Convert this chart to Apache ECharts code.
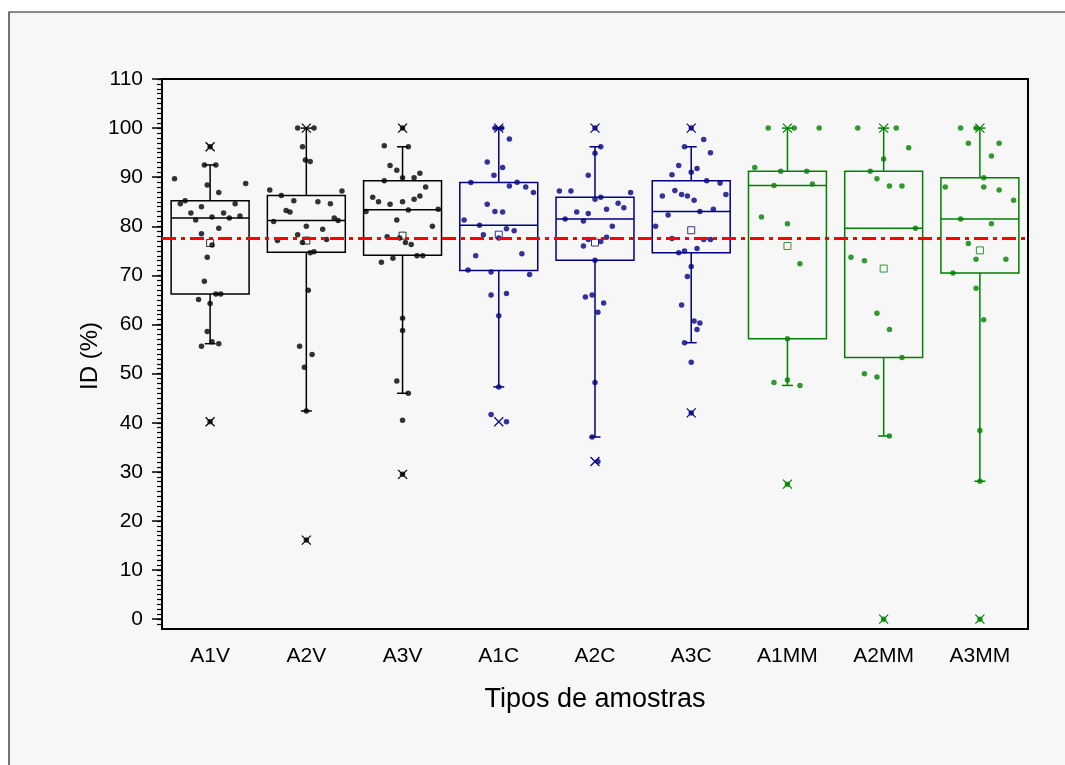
<!DOCTYPE html>
<html>
<head>
<meta charset="utf-8">
<script src="https://cdn.jsdelivr.net/npm/echarts@6/dist/echarts.min.js"></script>
<style>
  html, body { margin: 0; padding: 0; background: #ffffff; }
  #chart { width: 1065px; height: 765px; }
</style>
</head>
<body>
<div id="chart"></div>
<script>
// Sample types on the horizontal axis
const categories = ['A1V', 'A2V', 'A3V', 'A1C', 'A2C', 'A3C', 'A1MM', 'A2MM', 'A3MM'];

// Box statistics per sample type (ID, %)
const q1 = [66.2, 74.7, 74.1, 71.0, 73.1, 74.6, 57.1, 53.3, 70.5];
const median = [81.7, 81.2, 83.4, 80.2, 81.5, 83.0, 88.3, 79.6, 81.5];
const q3 = [85.2, 86.3, 89.3, 88.9, 85.9, 89.3, 91.2, 91.2, 89.9];
const whiskerLow = [56.1, 42.4, 46.0, 47.3, 37.1, 56.3, 47.6, 37.3, 28.1];
const whiskerHigh = [92.5, 100, 96.2, 100, 96.2, 96.2, 100, 100, 100];
const minValue = [40.2, 16.1, 29.5, 40.2, 32.1, 42.0, 27.5, 0, 0];
const maxValue = [96.2, 100, 100, 100, 100, 100, 100, 100, 100];
const meanValue = [76.6, 77.1, 78.1, 78.3, 76.7, 79.2, 76.0, 71.4, 75.1];

// Reference level
const referenceLevel = 77.5;

// Individual measurements per sample type
const valuesA1V = [92.5, 92.5, 89.7, 88.7, 88.4, 86.9, 84.6, 85.2, 84.6, 84.0, 82.7, 82.7, 81.3, 81.9, 81.7, 82.1, 79.6, 78.5, 76.2, 73.7, 68.8, 66.2, 66.2, 65.1, 64.3, 58.6, 56.5, 55.6, 56.1, 96.2, 40.2];
const valuesA2V = [100, 100, 96.2, 93.5, 93.2, 87.4, 87.2, 86.3, 85.2, 85.0, 84.6, 83.2, 82.9, 81.7, 81.2, 81.0, 80.0, 79.4, 78.3, 77.1, 77.3, 76.7, 74.6, 74.8, 67.0, 55.6, 53.9, 51.3, 42.4, 16.1];
const valuesA3V = [96.4, 96.2, 92.4, 91.4, 90.8, 89.9, 89.9, 89.3, 88.0, 85.9, 86.2, 85.5, 85.0, 84.5, 85.0, 83.0, 83.5, 83.3, 81.3, 80.0, 77.9, 77.6, 76.7, 76.3, 72.7, 73.5, 74.0, 74.0, 61.3, 58.8, 48.5, 46.0, 40.5, 29.5, 100];
const valuesA1C = [100, 100, 97.8, 93.1, 92.0, 90.4, 88.9, 89.0, 88.2, 88.0, 86.9, 84.5, 83.0, 82.9, 81.3, 80.2, 79.5, 79.1, 78.3, 77.6, 74.0, 74.4, 71.1, 70.7, 70.2, 66.0, 66.3, 61.8, 47.3, 41.7, 40.2];
const valuesA2C = [96.2, 94.9, 90.4, 87.2, 87.2, 86.9, 85.5, 85.9, 84.7, 83.8, 83.5, 82.9, 82.6, 81.5, 81.1, 80.0, 77.3, 77.8, 76.9, 76.0, 73.1, 65.6, 66.0, 64.4, 62.5, 48.2, 37.1, 32.1, 100];
const valuesA3C = [97.7, 96.2, 95.0, 92.4, 91.8, 90.5, 91.0, 89.3, 88.8, 87.3, 86.5, 86.2, 86.5, 86.2, 85.3, 83.5, 83.0, 82.3, 80.0, 77.5, 77.3, 77.3, 75.5, 74.6, 75.0, 71.8, 69.8, 64.0, 60.7, 60.3, 59.0, 56.3, 52.3, 42.0, 100];
const valuesA1MM = [100, 100, 100, 92.0, 91.2, 91.2, 88.3, 88.6, 81.9, 80.5, 72.4, 57.1, 48.2, 48.7, 47.6, 27.5];
const valuesA2MM = [100, 100, 96.0, 93.7, 91.2, 89.7, 88.2, 88.2, 79.6, 73.7, 73.0, 62.3, 59.0, 53.3, 50.0, 49.3, 37.3, 0];
const valuesA3MM = [100, 100, 96.9, 96.9, 94.3, 89.9, 88.0, 88.0, 87.4, 85.3, 81.5, 80.5, 76.5, 73.3, 73.3, 70.5, 67.4, 61.0, 38.4, 28.1, 0];

// Horizontal spread of the strip points, in category-band units
const jitterA1V = [-0.06, 0.06, -0.37, 0.37, -0.03, 0.09, -0.31, -0.26, 0.26, -0.09, -0.20, 0.14, -0.15, 0.02, 0.20, 0.31, 0.09, -0.09, 0.02, -0.03, -0.06, 0.06, 0.11, -0.12, 0, -0.03, 0.02, -0.09, 0.09, 0, 0];
const jitterA2V = [-0.09, 0.08, -0.04, -0.01, 0.04, -0.38, 0.37, -0.26, -0.13, 0.12, 0.25, -0.21, -0.17, 0.29, 0.33, -0.34, 0, 0.17, -0.09, -0.30, 0.21, -0.04, 0.04, 0.08, 0.02, -0.07, 0.06, -0.02, 0, 0];
const jitterA3V = [-0.19, 0.06, -0.13, -0.06, 0.18, 0.12, 0, -0.19, 0.24, -0.31, 0.18, 0.12, -0.25, -0.13, 0, -0.38, 0.37, 0.06, -0.06, 0.31, -0.16, -0.03, 0.03, 0.09, -0.22, -0.10, 0.15, 0.21, 0, 0, -0.06, 0.06, 0, 0, 0];
const jitterA1C = [-0.04, 0.03, 0.11, -0.12, 0.04, -0.05, -0.29, 0.19, 0.11, 0.28, 0.36, -0.12, -0.04, 0.04, -0.36, -0.20, 0.08, 0.16, -0.16, 0, -0.24, 0.24, -0.32, -0.08, 0.32, -0.08, 0.08, 0, 0, -0.08, 0.08];
const jitterA2C = [0.06, 0, -0.07, -0.37, -0.25, 0.37, 0, 0.06, 0.24, 0.30, 0.12, -0.19, -0.07, -0.31, -0.12, 0.18, -0.07, 0.12, 0.06, -0.12, 0, -0.10, -0.03, 0.09, 0.03, 0, -0.03, 0.03, 0];
const jitterA3C = [0.13, -0.07, 0.20, -0.13, 0.06, -0.20, 0, 0.16, 0.30, -0.17, -0.10, -0.04, 0.36, -0.30, 0.03, 0.23, 0.09, -0.24, -0.37, -0.20, 0.13, 0.20, 0.06, -0.13, -0.07, 0, -0.04, -0.10, 0.03, 0.09, 0.06, -0.07, 0, 0, 0];
const jitterA1MM = [-0.20, 0.07, 0.33, -0.34, -0.07, 0.20, -0.14, 0.26, -0.27, 0, 0.13, 0, -0.14, 0, 0.13, 0];
const jitterA2MM = [-0.27, 0.13, 0.26, 0, -0.14, -0.07, 0.06, 0.19, 0.33, -0.34, -0.20, -0.07, 0.06, 0.19, -0.20, -0.07, 0.06, 0];
const jitterA3MM = [-0.20, -0.04, -0.12, 0.20, 0.12, 0.04, -0.36, 0.04, 0.20, 0.35, -0.20, 0.12, -0.12, -0.04, 0.27, -0.28, -0.04, 0.04, 0, 0, 0];

// Y axis tick labels
const yTickValues = [0, 10, 20, 30, 40, 50, 60, 70, 80, 90, 100, 110];

const pointValues = [valuesA1V, valuesA2V, valuesA3V, valuesA1C, valuesA2C, valuesA3C, valuesA1MM, valuesA2MM, valuesA3MM];
const pointJitter = [jitterA1V, jitterA2V, jitterA3V, jitterA1C, jitterA2C, jitterA3C, jitterA1MM, jitterA2MM, jitterA3MM];

// Colours per sample family
const BLACK = '#000000', NAVY = '#000080', GREEN = '#008000';
const groupColor = [BLACK, BLACK, BLACK, NAVY, NAVY, NAVY, GREEN, GREEN, GREEN];
const PANEL = '#f7f7f7';
const FONT = '"Liberation Sans", Arial, Helvetica, sans-serif';

const minorTickValues = [];
for (let v = -1; v <= 110; v++) minorTickValues.push(v);

const chart = echarts.init(document.getElementById('chart'), null, { renderer: 'canvas' });

// Box, whiskers, caps and median line
function renderBox(params, api) {
  const i = api.value(0);
  const color = groupColor[i];
  const band = api.size([1, 0])[0];
  const xc = api.coord([i, 0])[0];
  const half = band * 0.405;
  const cap = 5.5;
  const y = (v) => api.coord([i, v])[1];
  const yWl = y(api.value(1)), yQ1 = y(api.value(2)), yMed = y(api.value(3)), yQ3 = y(api.value(4)), yWh = y(api.value(5));
  const st = { stroke: color, lineWidth: 1.5, fill: null };
  return {
    type: 'group',
    children: [
      { type: 'line', shape: { x1: xc, y1: yQ3, x2: xc, y2: yWh }, style: st },
      { type: 'line', shape: { x1: xc, y1: yQ1, x2: xc, y2: yWl }, style: st },
      { type: 'line', shape: { x1: xc - cap, y1: yWh, x2: xc + cap, y2: yWh }, style: st },
      { type: 'line', shape: { x1: xc - cap, y1: yWl, x2: xc + cap, y2: yWl }, style: st },
      { type: 'rect', shape: { x: xc - half, y: yQ3, width: half * 2, height: yQ1 - yQ3 }, style: { stroke: color, lineWidth: 1.5, fill: 'rgba(0,0,0,0)' } },
      { type: 'line', shape: { x1: xc - half, y1: yMed, x2: xc + half, y2: yMed }, style: st }
    ]
  };
}

// Cross markers at the minimum and maximum
function renderCross(params, api) {
  const i = api.value(0);
  const p = api.coord([i, api.value(1)]);
  const s = 4.5;
  const st = { stroke: groupColor[i], lineWidth: 1.2 };
  return {
    type: 'group',
    children: [
      { type: 'line', shape: { x1: p[0] - s, y1: p[1] - s, x2: p[0] + s, y2: p[1] + s }, style: st },
      { type: 'line', shape: { x1: p[0] - s, y1: p[1] + s, x2: p[0] + s, y2: p[1] - s }, style: st }
    ]
  };
}

const boxData = categories.map((c, i) => [i, whiskerLow[i], q1[i], median[i], q3[i], whiskerHigh[i]]);
const crossData = [];
categories.forEach((c, i) => { crossData.push([i, minValue[i]]); crossData.push([i, maxValue[i]]); });

const meanData = meanValue.map((v, i) => ({
  value: [i, v],
  itemStyle: { color: PANEL, borderColor: groupColor[i], borderWidth: 1 }
}));

const pointSeries = categories.map((c, i) => ({
  type: 'scatter',
  name: c,
  xAxisIndex: 1,
  yAxisIndex: 0,
  symbol: 'circle',
  symbolSize: 5.5,
  itemStyle: { color: groupColor[i] },
  z: 4,
  silent: true,
  data: pointValues[i].map((v, k) => [i + pointJitter[i][k], v])
}));

const option = {
  backgroundColor: '#ffffff',
  animation: false,
  graphic: [
    {
      type: 'rect', z: -10, silent: true,
      shape: { x: 9, y: 12, width: 1100, height: 800 },
      style: { fill: PANEL, stroke: '#1a1a1a', lineWidth: 1.2 }
    },
    {
      type: 'text', silent: true,
      x: 595, y: 700,
      style: { text: 'Tipos de amostras', font: '27px ' + FONT, fill: '#000', textAlign: 'center', textVerticalAlign: 'middle' }
    },
    {
      type: 'text', silent: true,
      x: 90, y: 356, rotation: Math.PI / 2,
      style: { text: 'ID (%)', font: '24px ' + FONT, fill: '#000', textAlign: 'center', textVerticalAlign: 'middle' }
    }
  ],
  grid: {
    left: 162, top: 79, right: 37, bottom: 136,
    show: true, borderColor: '#000', borderWidth: 2, backgroundColor: 'transparent'
  },
  xAxis: [
    {
      type: 'category',
      data: categories,
      boundaryGap: true,
      axisLine: { onZero: false, lineStyle: { color: '#000', width: 2 } },
      axisTick: { alignWithLabel: true, length: 11, lineStyle: { color: '#000', width: 1.5 } },
      axisLabel: { color: '#000', fontSize: 21, fontFamily: FONT, margin: 17 },
      splitLine: { show: false }
    },
    {
      type: 'value', min: -0.5, max: 8.5, show: false,
      axisLine: { show: false, onZero: false }
    }
  ],
  yAxis: [
    {
      type: 'value', min: -2, max: 110,
      axisLine: { show: true, onZero: false, lineStyle: { color: '#000', width: 2 } },
      axisTick: { show: true, length: 10, customValues: yTickValues, lineStyle: { color: '#000', width: 1.5 } },
      axisLabel: { color: '#000', fontSize: 21, fontFamily: FONT, margin: 19, customValues: yTickValues },
      splitLine: { show: false }
    },
    {
      type: 'value', min: -2, max: 110, position: 'left',
      axisLine: { show: false, onZero: false },
      axisTick: { show: true, length: 5, customValues: minorTickValues, lineStyle: { color: '#000', width: 1.2 } },
      axisLabel: { show: false, customValues: minorTickValues },
      splitLine: { show: false }
    }
  ],
  series: [
    {
      type: 'custom',
      name: 'box',
      xAxisIndex: 0, yAxisIndex: 0,
      renderItem: renderBox,
      encode: { x: 0, y: [1, 2, 3, 4, 5] },
      data: boxData,
      z: 3, silent: true
    },
    {
      type: 'scatter',
      name: 'mean',
      xAxisIndex: 0, yAxisIndex: 0,
      symbol: 'rect', symbolSize: 7,
      data: meanData,
      z: 3, silent: true
    },
    ...pointSeries,
    {
      type: 'custom',
      name: 'extremes',
      xAxisIndex: 0, yAxisIndex: 0,
      renderItem: renderCross,
      encode: { x: 0, y: 1 },
      data: crossData,
      z: 5, silent: true
    },
    {
      type: 'line',
      name: 'reference',
      xAxisIndex: 1, yAxisIndex: 0,
      data: [[-0.5, referenceLevel], [8.5, referenceLevel]],
      symbol: 'none',
      lineStyle: { color: '#ff0000', width: 3, type: [14, 5, 4, 5] },
      z: 6, silent: true
    }
  ]
};

chart.setOption(option);
</script>
</body>
</html>
